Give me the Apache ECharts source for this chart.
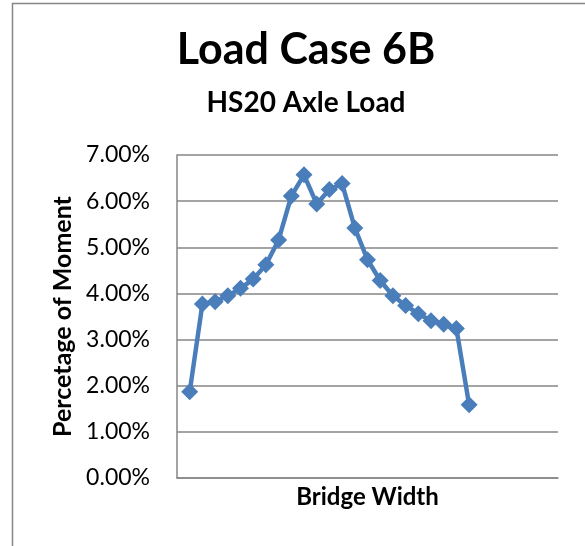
<!DOCTYPE html>
<html>
<head>
<meta charset="utf-8">
<script src="https://cdn.jsdelivr.net/npm/echarts@6/dist/echarts.min.js"></script>
<style>
  html, body { margin: 0; padding: 0; background: #fff; }
  #chart { width: 585px; height: 546px; }
</style>
</head>
<body>
<div id="chart"></div>
<script>
// stations across the bridge (axis runs 0..30, no labels shown)
const stations = [1, 2, 3, 4, 5, 6, 7, 8, 9, 10, 11, 12, 13, 14, 15, 16, 17, 18, 19, 20, 21, 22, 23];
// percentage of moment at each station
const moments = [1.87, 3.77, 3.82, 3.95, 4.11, 4.31, 4.62, 5.16, 6.11, 6.57, 5.94, 6.25,
                 6.38, 5.42, 4.73, 4.28, 3.95, 3.74, 3.56, 3.41, 3.33, 3.24, 1.59];
const yTicks = [0, 1, 2, 3, 4, 5, 6, 7];

const gridColor = '#868686';
const lineColor = '#4a7ebb';
const font = 'Lato, "Open Sans", sans-serif';

const chart = echarts.init(document.getElementById('chart'));

const option = {
    backgroundColor: '#fff',
    animation: false,
    graphic: [{
        type: 'rect',
        shape: { x: 12.5, y: 3.5, width: 640, height: 640 },
        style: { fill: 'none', stroke: gridColor, lineWidth: 1.5 },
        silent: true
    }],
    title: [{
        text: 'Load Case 6B',
        left: 301,
        top: 24,
        textAlign: 'center',
        textStyle: { fontFamily: font, fontWeight: 'bold', fontSize: 43, color: '#000' }
    }, {
        text: 'HS20 Axle Load',
        left: 301,
        top: 84,
        textAlign: 'center',
        textStyle: { fontFamily: font, fontWeight: 'bold', fontSize: 28, color: '#000' }
    }],
    grid: { left: 177, right: 27, top: 155, bottom: 68 },
    xAxis: {
        type: 'value',
        min: 0,
        max: 30,
        name: 'Bridge Width',
        nameLocation: 'middle',
        nameGap: 7,
        nameTextStyle: { fontFamily: font, fontWeight: 'bold', fontSize: 24, color: '#000', verticalAlign: 'top' },
        axisLine: { show: true, lineStyle: { color: gridColor, width: 1.5 } },
        axisTick: { show: false },
        axisLabel: { show: false },
        splitLine: { show: false }
    },
    yAxis: {
        type: 'value',
        min: yTicks[0],
        max: yTicks[yTicks.length - 1],
        interval: 1,
        name: 'Percetage of Moment',
        nameLocation: 'middle',
        nameGap: 98,
        nameTextStyle: { fontFamily: font, fontWeight: 'bold', fontSize: 25, color: '#000' },
        axisLine: { show: true, lineStyle: { color: gridColor, width: 1.5 } },
        axisTick: { show: false },
        axisLabel: {
            margin: 27,
            fontFamily: font,
            fontSize: 23,
            color: '#000',
            formatter: v => v.toFixed(2) + '%'
        },
        splitLine: { show: true, lineStyle: { color: gridColor, width: 1.5 } }
    },
    series: [{
        type: 'line',
        data: stations.map((s, i) => [s, moments[i]]),
        symbol: 'diamond',
        symbolSize: 17,
        itemStyle: { color: lineColor },
        lineStyle: { color: lineColor, width: 4.5 }
    }]
};

chart.setOption(option);
</script>
</body>
</html>
